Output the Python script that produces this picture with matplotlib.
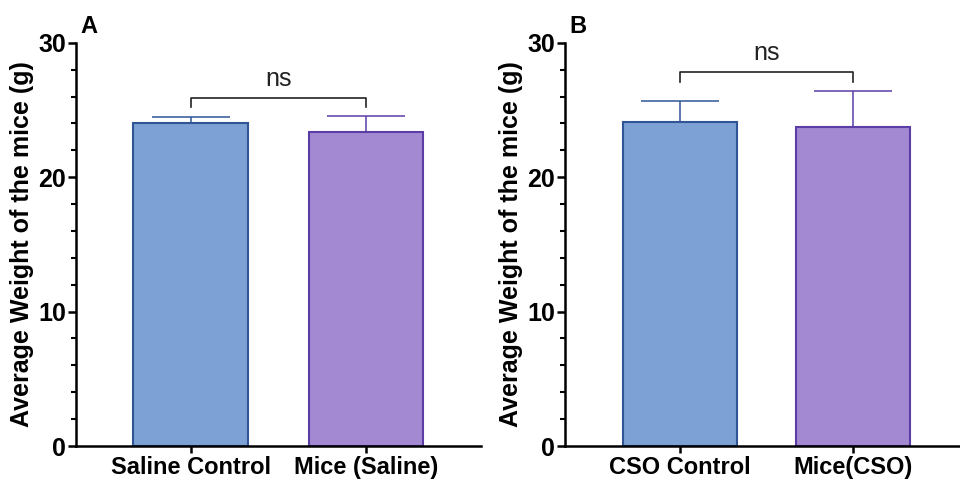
import matplotlib.pyplot as plt
import numpy as np

plt.rcParams["font.family"] = ["Liberation Sans", "DejaVu Sans"]

# panel A
groups_a = ["Saline Control", "Mice (Saline)"]
means_a = [24.0, 23.4]
sd_a = [0.5, 1.15]
ns_a = 25.9

# panel B
groups_b = ["CSO Control", "Mice(CSO)"]
means_b = [24.1, 23.75]
sd_b = [1.6, 2.7]
ns_b = 27.8

FILL = ["#7da1d4", "#a389d1"]
EDGE = ["#2f5597", "#5b3da6"]
YLABEL = "Average Weight of the mice (g)"


def draw_panel(ax, groups, means, sds, ns_y, letter, xlim, width):
    x = np.arange(len(groups))
    ax.bar(x, means, width=width, color=FILL, edgecolor=EDGE, linewidth=1.5, zorder=2)
    # upward-only error bars, GraphPad style
    for xi, m, s, ec in zip(x, means, sds, EDGE):
        ax.errorbar(xi, m, yerr=[[0], [s]], fmt="none", ecolor=ec,
                    elinewidth=1.1, capsize=28, capthick=1.1, zorder=1)
    # significance bracket
    ax.plot([x[0], x[0], x[1], x[1]], [ns_y - 0.7, ns_y, ns_y, ns_y - 0.7],
            color="#222222", lw=1.2)
    ax.text((x[0] + x[1]) / 2, ns_y + 0.55, "ns", ha="center", va="bottom",
            fontsize=18, color="#222222")

    ax.set_xlim(*xlim)
    ax.set_ylim(0, 30)
    ax.set_yticks([0, 10, 20, 30])
    ax.set_yticks(np.arange(0, 31, 2), minor=True)
    ax.set_xticks(x)
    ax.set_xticklabels(groups, fontsize=17, fontweight="bold")
    ax.tick_params(axis="y", labelsize=18, width=1.8, length=6, pad=1)
    ax.tick_params(axis="y", which="minor", width=1.5, length=3.5)
    ax.tick_params(axis="x", width=1.8, length=5, pad=2)
    for lbl in ax.get_yticklabels():
        lbl.set_fontweight("bold")
    ax.set_ylabel(YLABEL, fontsize=18, fontweight="bold", labelpad=3)
    for side in ("top", "right"):
        ax.spines[side].set_visible(False)
    for side in ("left", "bottom"):
        ax.spines[side].set_linewidth(1.8)
    ax.text(0.012, 1.012, letter, transform=ax.transAxes, fontsize=17,
            fontweight="bold", ha="left", va="bottom")


fig = plt.figure(figsize=(9.6, 4.8), dpi=100)
axA = fig.add_axes([0.0792, 0.0708, 0.4215, 0.840])
axB = fig.add_axes([0.5885, 0.0708, 0.4115, 0.840])

draw_panel(axA, groups_a, means_a, sd_a, ns_a, "A", (-0.655, 1.655), 0.655)
draw_panel(axB, groups_b, means_b, sd_b, ns_b, "B", (-0.665, 1.62), 0.66)

fig.savefig("out.png", dpi=100)
